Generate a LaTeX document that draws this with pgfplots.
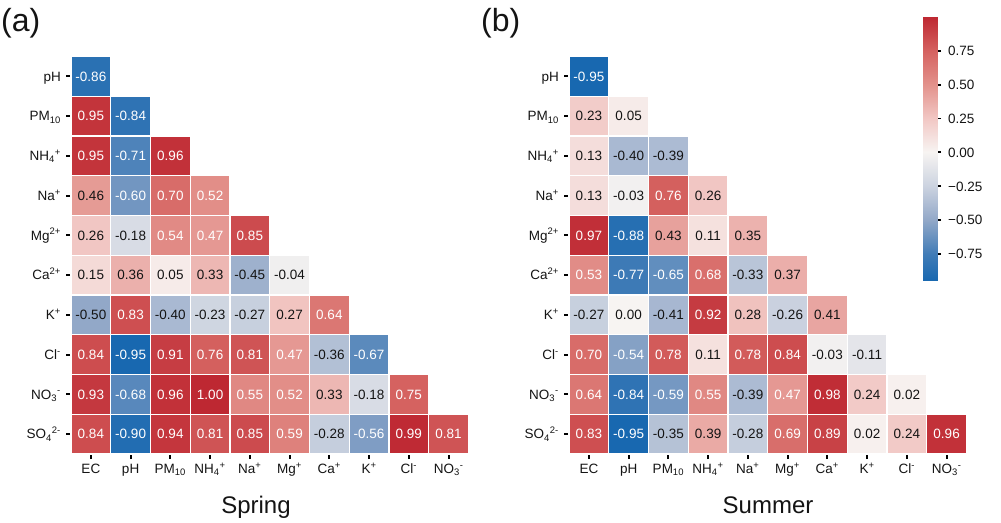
\documentclass[border=0pt]{standalone}
\usepackage{pgfplots}
\usepackage{pgfplotstable}
\pgfplotsset{compat=1.18}
\usepackage{fontspec}
\setmainfont{Liberation Sans}

% w = 1: value printed in white, w = 0: printed in dark
\pgfplotstableread{
r c v w
0 0 -0.86 1
1 0 0.95 1
1 1 -0.84 1
2 0 0.95 1
2 1 -0.71 1
2 2 0.96 1
3 0 0.46 0
3 1 -0.60 1
3 2 0.70 1
3 3 0.52 1
4 0 0.26 0
4 1 -0.18 0
4 2 0.54 1
4 3 0.47 1
4 4 0.85 1
5 0 0.15 0
5 1 0.36 0
5 2 0.05 0
5 3 0.33 0
5 4 -0.45 0
5 5 -0.04 0
6 0 -0.50 0
6 1 0.83 1
6 2 -0.40 0
6 3 -0.23 0
6 4 -0.27 0
6 5 0.27 0
6 6 0.64 1
7 0 0.84 1
7 1 -0.95 1
7 2 0.91 1
7 3 0.76 1
7 4 0.81 1
7 5 0.47 1
7 6 -0.36 0
7 7 -0.67 1
8 0 0.93 1
8 1 -0.68 1
8 2 0.96 1
8 3 1.00 1
8 4 0.55 1
8 5 0.52 1
8 6 0.33 0
8 7 -0.18 0
8 8 0.75 1
9 0 0.84 1
9 1 -0.90 1
9 2 0.94 1
9 3 0.81 1
9 4 0.85 1
9 5 0.59 1
9 6 -0.28 0
9 7 -0.56 1
9 8 0.99 1
9 9 0.81 1
}\springdata

\pgfplotstableread{
r c v w
0 0 -0.95 1
1 0 0.23 0
1 1 0.05 0
2 0 0.13 0
2 1 -0.40 0
2 2 -0.39 0
3 0 0.13 0
3 1 -0.03 0
3 2 0.76 1
3 3 0.26 0
4 0 0.97 1
4 1 -0.88 1
4 2 0.43 0
4 3 0.11 0
4 4 0.35 0
5 0 0.53 1
5 1 -0.77 1
5 2 -0.65 1
5 3 0.68 1
5 4 -0.33 0
5 5 0.37 0
6 0 -0.27 0
6 1 0.00 0
6 2 -0.41 0
6 3 0.92 1
6 4 0.28 0
6 5 -0.26 0
6 6 0.41 0
7 0 0.70 1
7 1 -0.54 1
7 2 0.78 1
7 3 0.11 0
7 4 0.78 1
7 5 0.84 1
7 6 -0.03 0
7 7 -0.11 0
8 0 0.64 1
8 1 -0.84 1
8 2 -0.59 1
8 3 0.55 1
8 4 -0.39 0
8 5 0.47 1
8 6 0.98 1
8 7 0.24 0
8 8 0.02 0
9 0 0.83 1
9 1 -0.95 1
9 2 -0.35 0
9 3 0.39 0
9 4 -0.28 0
9 5 0.69 1
9 6 0.89 1
9 7 0.02 0
9 8 0.24 0
9 9 0.96 1
}\summerdata

\pgfplotstablecreatecol[expr={9-\thisrow{r}}]{y}\springdata
\pgfplotstablecreatecol[expr={9-\thisrow{r}}]{y}\summerdata

\definecolor{txtdark}{RGB}{20,20,20}

\pgfplotsset{
  corrmap/.style={
    colormap={corr}{rgb255(0pt)=(24,104,176) rgb255(20pt)=(65,124,183) rgb255(45pt)=(146,168,200) rgb255(70pt)=(204,211,224) rgb255(95pt)=(247,244,242) rgb255(120pt)=(242,200,197) rgb255(145pt)=(227,146,140) rgb255(170pt)=(213,98,96) rgb255(195pt)=(190,40,50)},
    point meta min=-0.95, point meta max=1.0,
  },
  heat/.style={
    corrmap,
    scale only axis, width=397.5pt, height=397.5pt,
    xmin=-0.5, xmax=9.5, ymin=-0.5, ymax=9.5,
    separate axis lines, axis line style={draw=none},
    xtick={0,...,9}, ytick={0,...,9},
    xticklabels={EC, pH, PM\textsubscript{10}, NH\textsubscript{4}\textsuperscript{+}, Na\textsuperscript{+}, Mg\textsuperscript{+}, Ca\textsuperscript{+}, K\textsuperscript{+}, Cl\textsuperscript{-}, NO\textsubscript{3}\textsuperscript{-}},
    yticklabels={SO\textsubscript{4}\textsuperscript{2-}, NO\textsubscript{3}\textsuperscript{-}, Cl\textsuperscript{-}, K\textsuperscript{+}, Ca\textsuperscript{2+}, Mg\textsuperscript{2+}, Na\textsuperscript{+}, NH\textsubscript{4}\textsuperscript{+}, PM\textsubscript{10}, pH},
    xtick pos=left, ytick pos=left, tick align=outside,
    major tick length=5pt,
    tick style={black, line width=1.8pt},
    tick label style={font=\fontsize{13.5}{15}\selectfont, inner sep=0pt, text=txtdark},
    xticklabel style={anchor=base, yshift=-14.5pt},
    yticklabel style={anchor=base east, xshift=-5pt, yshift=-4.8pt},
  },
  cells/.style={
    scatter, only marks, mark=square*, mark size=19.875pt,
    scatter src=explicit,
    scatter/use mapped color={draw=white, fill=mapped color, line width=1.2pt},
  },
  labs/.style={
    draw=none, mark=none, point meta=explicit,
    nodes near coords={\pgfmathprintnumber[fixed,zerofill,precision=2,assume math mode=true]{\pgfplotspointmeta}},
    nodes near coords align=center,
    every node near coord/.append style={anchor=center, inner sep=0pt, font=\fontsize{13.5}{15}\selectfont, text=#1},
  },
  whitelabs/.style={labs=white, restrict expr to domain={\thisrow{w}}{0.5:1.5}},
  darklabs/.style={labs=txtdark, restrict expr to domain={\thisrow{w}}{-0.5:0.5}},
}

\begin{document}
\begin{tikzpicture}[x=1pt,y=1pt]
\useasboundingbox (0,0) rectangle (1001,522);

% colour bar, drawn as a shaded strip in its own axis
\begin{axis}[corrmap, at={(923pt,241pt)}, anchor=south west,
  scale only axis, width=14pt, height=264pt,
  xmin=0, xmax=1, ymin=-0.95, ymax=1.0,
  separate axis lines, axis line style={draw=none},
  xtick=\empty,
  ytick={-0.75,-0.5,-0.25,0,0.25,0.5,0.75},
  yticklabels={−0.75,−0.50,−0.25,0.00,0.25,0.50,0.75},
  ytick pos=right, yticklabel pos=right, tick align=outside,
  major tick length=4pt,
  tick style={black, line width=1.8pt},
  yticklabel style={font=\fontsize{13.5}{15}\selectfont, anchor=base west, inner sep=0pt, xshift=7pt, yshift=-4.8pt, text=txtdark}]
\addplot[patch, patch type=rectangle, shader=interp, point meta=explicit] coordinates {
(0,-0.95) [-0.95] (1,-0.95) [-0.95] (1,-0.75) [-0.75] (0,-0.75) [-0.75]
(0,-0.75) [-0.75] (1,-0.75) [-0.75] (1,-0.5) [-0.5] (0,-0.5) [-0.5]
(0,-0.5) [-0.5] (1,-0.5) [-0.5] (1,-0.25) [-0.25] (0,-0.25) [-0.25]
(0,-0.25) [-0.25] (1,-0.25) [-0.25] (1,0) [0] (0,0) [0]
(0,0) [0] (1,0) [0] (1,0.25) [0.25] (0,0.25) [0.25]
(0,0.25) [0.25] (1,0.25) [0.25] (1,0.5) [0.5] (0,0.5) [0.5]
(0,0.5) [0.5] (1,0.5) [0.5] (1,0.75) [0.75] (0,0.75) [0.75]
(0,0.75) [0.75] (1,0.75) [0.75] (1,1.0) [1.0] (0,1.0) [1.0]
};
\end{axis}

\begin{axis}[heat, at={(71pt,68pt)}, anchor=south west]
\addplot[cells] table[x=c, y=y, meta=v]{\springdata};
\addplot[whitelabs] table[x=c, y=y, meta=v]{\springdata};
\addplot[darklabs] table[x=c, y=y, meta=v]{\springdata};
\end{axis}

\begin{axis}[heat, at={(569pt,68pt)}, anchor=south west]
\addplot[cells] table[x=c, y=y, meta=v]{\summerdata};
\addplot[whitelabs] table[x=c, y=y, meta=v]{\summerdata};
\addplot[darklabs] table[x=c, y=y, meta=v]{\summerdata};
\end{axis}

\node[anchor=north west, inner sep=0pt, font=\fontsize{32}{36}\selectfont, text=txtdark] at (1,514) {(a)};
\node[anchor=north west, inner sep=0pt, font=\fontsize{32}{36}\selectfont, text=txtdark] at (481,514) {(b)};
\node[anchor=base, inner sep=0pt, font=\fontsize{24}{28}\selectfont, text=txtdark] at (256,9) {Spring};
\node[anchor=base, inner sep=0pt, font=\fontsize{24}{28}\selectfont, text=txtdark] at (768,9) {Summer};
\end{tikzpicture}
\end{document}
